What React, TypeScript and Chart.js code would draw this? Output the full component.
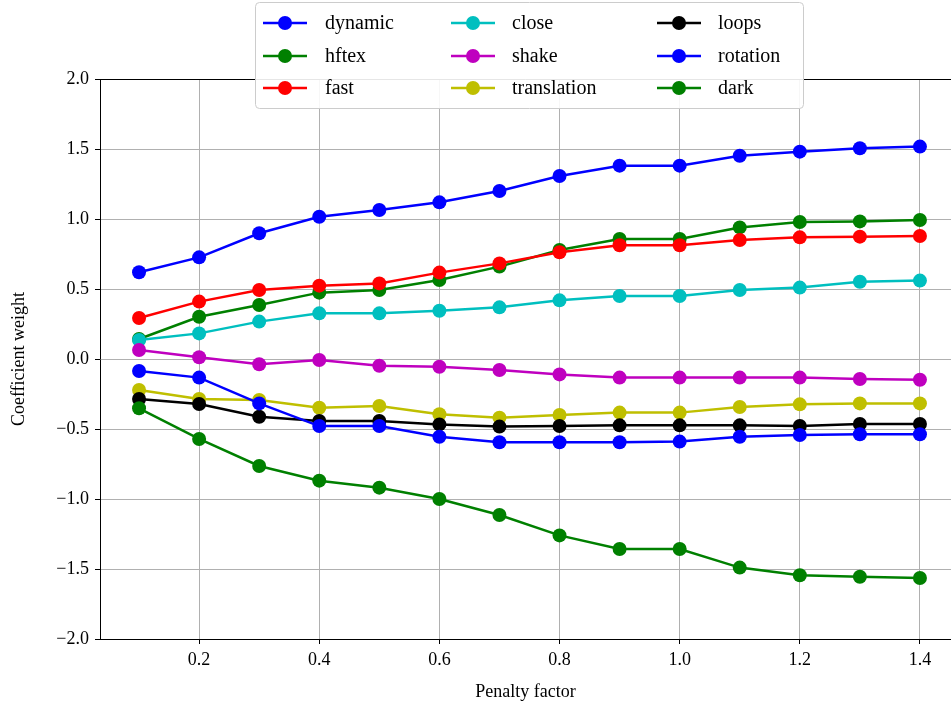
import React, { useEffect, useRef } from "react";
import { Chart, registerables } from "chart.js";

Chart.register(...registerables);

const penalty = [0.1, 0.2, 0.3, 0.4, 0.5, 0.6, 0.7, 0.8, 0.9, 1.0, 1.1, 1.2, 1.3, 1.4];

const dynamic = [0.62, 0.726, 0.898, 1.016, 1.064, 1.119, 1.2, 1.307, 1.381, 1.381, 1.452, 1.481, 1.505, 1.517];
const hftex = [0.143, 0.302, 0.386, 0.474, 0.493, 0.564, 0.66, 0.779, 0.857, 0.857, 0.94, 0.979, 0.983, 0.993];
const fast = [0.293, 0.41, 0.493, 0.524, 0.54, 0.617, 0.683, 0.762, 0.812, 0.812, 0.85, 0.869, 0.874, 0.879];
const close = [0.136, 0.183, 0.267, 0.326, 0.326, 0.345, 0.369, 0.419, 0.45, 0.45, 0.493, 0.51, 0.552, 0.56];
const shake = [0.064, 0.012, -0.038, -0.007, -0.048, -0.055, -0.079, -0.11, -0.133, -0.133, -0.133, -0.133, -0.143, -0.148];
const translation = [-0.221, -0.286, -0.293, -0.348, -0.336, -0.395, -0.419, -0.4, -0.383, -0.383, -0.343, -0.324, -0.317, -0.317];
const loops = [-0.286, -0.321, -0.412, -0.443, -0.443, -0.467, -0.483, -0.479, -0.474, -0.474, -0.474, -0.479, -0.464, -0.464];
const rotation = [-0.086, -0.133, -0.317, -0.479, -0.479, -0.555, -0.595, -0.595, -0.595, -0.59, -0.555, -0.543, -0.538, -0.538];
const dark = [-0.352, -0.571, -0.764, -0.869, -0.919, -1.0, -1.114, -1.26, -1.357, -1.357, -1.49, -1.545, -1.555, -1.564];

const seriesNames = ["dynamic", "hftex", "fast", "close", "shake", "translation", "loops", "rotation", "dark"];
const seriesValues = [dynamic, hftex, fast, close, shake, translation, loops, rotation, dark];
const seriesColors = ["#0000ff", "#008000", "#ff0000", "#00bfbf", "#bf00bf", "#bfbf00", "#000000", "#0000ff", "#008000"];

const xTicks = [0.2, 0.4, 0.6, 0.8, 1.0, 1.2, 1.4];
const yTicks = [-2.0, -1.5, -1.0, -0.5, 0.0, 0.5, 1.0, 1.5, 2.0];

const FONT = "'Liberation Serif', 'DejaVu Serif', serif";

const legendPlugin = {
  id: "mplLegend",
  afterDraw(chart: any) {
    const ctx = chart.ctx;
    const { left, right, top } = chart.chartArea;
    ctx.save();
    // top spine
    ctx.strokeStyle = "#000";
    ctx.lineWidth = 1;
    ctx.beginPath();
    ctx.moveTo(left, top + 0.5);
    ctx.lineTo(right, top + 0.5);
    ctx.stroke();

    // legend box
    const bx = 255.5, by = 2.5, bw = 548, bh = 106, r = 4;
    ctx.beginPath();
    ctx.moveTo(bx + r, by);
    ctx.lineTo(bx + bw - r, by);
    ctx.quadraticCurveTo(bx + bw, by, bx + bw, by + r);
    ctx.lineTo(bx + bw, by + bh - r);
    ctx.quadraticCurveTo(bx + bw, by + bh, bx + bw - r, by + bh);
    ctx.lineTo(bx + r, by + bh);
    ctx.quadraticCurveTo(bx, by + bh, bx, by + bh - r);
    ctx.lineTo(bx, by + r);
    ctx.quadraticCurveTo(bx, by, bx + r, by);
    ctx.closePath();
    ctx.fillStyle = "rgba(255,255,255,0.9)";
    ctx.fill();
    ctx.strokeStyle = "#cccccc";
    ctx.stroke();

    const colX = [263, 451, 657];
    const textX = [325, 512, 718];
    const rowY = [23, 56, 88];
    ctx.font = "20px " + FONT;
    ctx.textBaseline = "middle";
    ctx.textAlign = "left";
    seriesNames.forEach((name, i) => {
      const c = Math.floor(i / 3);
      const rr = i % 3;
      const x0 = colX[c];
      const y = rowY[rr];
      ctx.strokeStyle = seriesColors[i];
      ctx.lineWidth = 2.5;
      ctx.beginPath();
      ctx.moveTo(x0, y);
      ctx.lineTo(x0 + 44, y);
      ctx.stroke();
      ctx.fillStyle = seriesColors[i];
      ctx.beginPath();
      ctx.arc(x0 + 22, y, 7, 0, Math.PI * 2);
      ctx.fill();
      ctx.fillStyle = "#000";
      ctx.fillText(name, textX[c], y + 1);
    });
    ctx.restore();
  },
};

export default function App() {
  const ref = useRef<HTMLCanvasElement | null>(null);
  useEffect(() => {
    if (!ref.current) return;
    const n = seriesNames.length;
    const chart = new Chart(ref.current, {
      type: "line",
      data: {
        datasets: seriesNames.map((name, i) => ({
          label: name,
          data: penalty.map((x, j) => ({ x, y: seriesValues[i][j] })),
          borderColor: seriesColors[i],
          backgroundColor: seriesColors[i],
          pointBackgroundColor: seriesColors[i],
          pointBorderWidth: 0,
          pointRadius: 7,
          borderWidth: 2.5,
          tension: 0,
          order: n - i,
        })),
      },
      options: {
        animation: false,
        responsive: false,
        maintainAspectRatio: false,
        layout: { autoPadding: false, padding: { top: 79, right: 0, bottom: 0, left: 0 } },
        plugins: { legend: { display: false }, tooltip: { enabled: false } },
        scales: {
          x: {
            type: "linear",
            min: 0.035,
            max: 1.4517,
            afterBuildTicks: (s: any) => {
              s.ticks = xTicks.map((v) => ({ value: v }));
            },
            afterFit: (s: any) => {
              s.height = 70;
              s.paddingLeft = 0;
              s.paddingRight = 0;
            },
            grid: { color: "#b0b0b0", lineWidth: 1, tickColor: "#000", tickLength: 5 },
            border: { color: "#000", width: 1 },
            ticks: {
              color: "#000",
              font: { family: FONT, size: 18 },
              padding: 5,
              maxRotation: 0,
              callback: (v: any) => Number(v).toFixed(1),
            },
            title: {
              display: true,
              text: "Penalty factor",
              color: "#000",
              font: { family: FONT, size: 18 },
              padding: { top: 4, bottom: 6 },
            },
          },
          y: {
            type: "linear",
            min: -2,
            max: 2,
            afterBuildTicks: (s: any) => {
              s.ticks = yTicks.map((v) => ({ value: v }));
            },
            afterFit: (s: any) => {
              s.width = 100;
              s.paddingTop = 0;
              s.paddingBottom = 0;
            },
            grid: { color: "#b0b0b0", lineWidth: 1, tickColor: "#000", tickLength: 5 },
            border: { color: "#000", width: 1 },
            ticks: {
              color: "#000",
              font: { family: FONT, size: 18 },
              padding: 6,
              callback: (v: any) => {
                const s = Math.abs(Number(v)).toFixed(1);
                return Number(v) < 0 ? "\u2212" + s : s;
              },
            },
            title: {
              display: true,
              text: "Coefficient weight",
              color: "#000",
              font: { family: FONT, size: 18 },
              padding: { top: 8, bottom: 4 },
            },
          },
        },
      },
      plugins: [legendPlugin],
    } as any);
    return () => chart.destroy();
  }, []);
  return (
    <div style={{ position: "absolute", left: 0, top: 0, width: 951, height: 709, background: "#fff" }}>
      <canvas ref={ref} width={951} height={709} style={{ width: 951, height: 709, display: "block" }} />
    </div>
  );
}
